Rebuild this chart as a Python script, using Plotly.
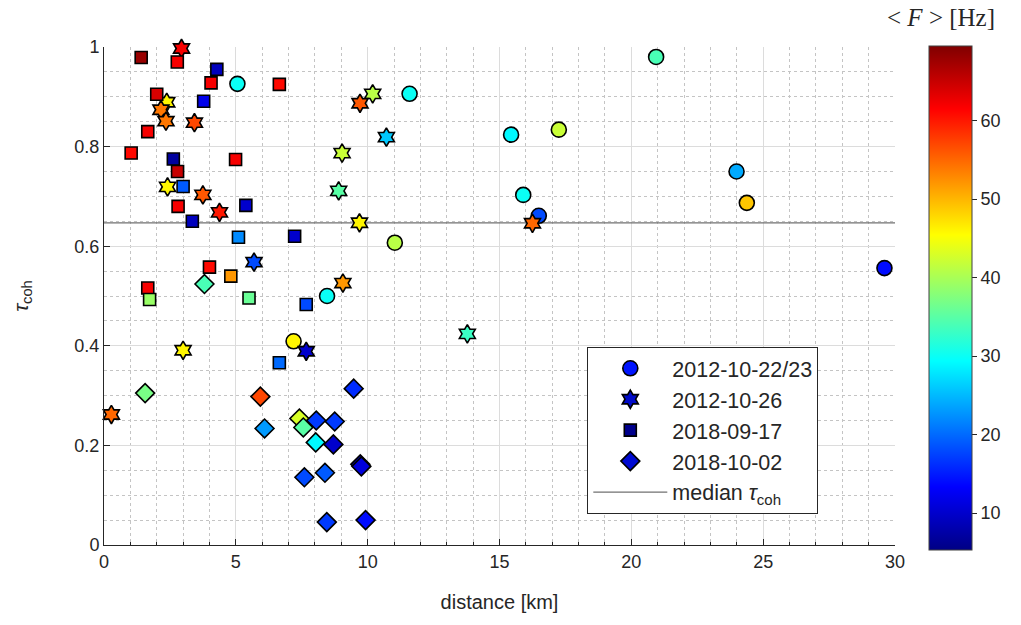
import plotly.graph_objects as go

# ---------------- data ----------------
CMIN, CMAX = 5.3, 69.5
median_tau = 0.647

circ_dist = [5.06, 11.59, 15.44, 17.25, 15.90, 16.49, 20.94, 23.99, 24.38, 29.60, 11.03, 8.46, 7.19]
circ_tau = [0.926, 0.906, 0.824, 0.834, 0.703, 0.661, 0.980, 0.750, 0.687, 0.556, 0.607, 0.500, 0.409]
circ_freq = [30, 30, 29, 42, 30, 18, 34, 24, 49, 14, 41, 30, 46]

star_dist = [2.94, 2.38, 2.16, 2.35, 3.43, 2.41, 3.75, 4.38, 5.69, 3.00, 0.28, 10.19, 9.71, 10.71,
             9.03, 8.90, 9.69, 9.06, 13.78, 7.67, 16.25]
star_tau = [0.997, 0.889, 0.874, 0.851, 0.848, 0.719, 0.703, 0.668, 0.568, 0.391, 0.262, 0.906, 0.887,
            0.819, 0.787, 0.711, 0.647, 0.526, 0.424, 0.389, 0.646]
star_freq = [62, 46, 54, 54, 57, 46, 56, 60, 18, 46, 55, 41, 56, 26, 42, 35, 46, 52, 33, 10, 55]

sq_dist = [1.41, 2.78, 4.28, 4.06, 6.65, 2.00, 3.78, 1.66, 1.03, 2.63, 4.99, 2.79, 3.00, 2.81, 5.38,
           3.35, 5.10, 7.23, 4.00, 4.81, 1.66, 1.73, 5.50, 7.67, 6.65]
sq_tau = [0.979, 0.970, 0.955, 0.928, 0.925, 0.905, 0.891, 0.830, 0.787, 0.775, 0.774, 0.750, 0.720,
          0.680, 0.682, 0.650, 0.618, 0.620, 0.558, 0.540, 0.516, 0.493, 0.496, 0.483, 0.366]
sq_freq = [68, 62, 9, 62, 61, 64, 12, 62, 61, 7, 62, 65, 19, 62, 10, 9, 22, 10, 61, 52, 62, 39, 36, 18, 20]

dia_dist = [1.56, 3.81, 5.93, 6.09, 7.41, 7.56, 8.05, 8.75, 8.03, 8.70, 9.47, 9.72, 9.76, 7.60, 8.38,
            8.45, 9.92]
dia_tau = [0.305, 0.524, 0.298, 0.234, 0.254, 0.236, 0.250, 0.248, 0.206, 0.202, 0.314, 0.162, 0.158,
           0.136, 0.145, 0.046, 0.050]
dia_freq = [37, 34, 57, 23, 43, 35, 17, 17, 29, 10, 16, 10, 11, 18, 19, 17, 14]

series_names = ["2012-10-22/23", "2012-10-26", "2018-09-17", "2018-10-02"]
x_ticks = [0, 5, 10, 15, 20, 25, 30]
y_ticks = [0, 0.2, 0.4, 0.6, 0.8, 1]
y_ticklabels = ["0", "0.2", "0.4", "0.6", "0.8", "1"]
cbar_ticks = [10, 20, 30, 40, 50, 60]

# ---------------- styling ----------------
TXT = "#262626"
FONT = "Liberation Sans, Arial, sans-serif"
jet = [[0.0, "rgb(0,0,132)"], [0.125, "rgb(0,0,255)"], [0.375, "rgb(0,255,255)"],
       [0.625, "rgb(255,255,0)"], [0.875, "rgb(255,0,0)"], [1.0, "rgb(128,0,0)"]]

fig = go.Figure()

# median line
fig.add_trace(go.Scatter(x=[0, 30], y=[median_tau, median_tau], mode="lines",
                         line=dict(color="#707070", width=1.2), showlegend=False,
                         hoverinfo="skip"))

groups = [
    (circ_dist, circ_tau, circ_freq, "circle", 15),
    (star_dist, star_tau, star_freq, "hexagram", 14),
    (sq_dist, sq_tau, sq_freq, "square", 12),
    (dia_dist, dia_tau, dia_freq, "diamond", 14.5),
]
for xs, ys, cs, sym, sz in groups:
    fig.add_trace(go.Scatter(
        x=xs, y=ys, mode="markers", showlegend=False, cliponaxis=False,
        marker=dict(symbol=sym, size=sz, color=cs, coloraxis="coloraxis",
                    line=dict(color="black", width=1.6))))

# legend-only entries
leg_colors = ["rgb(0,20,255)", "rgb(0,10,200)", "rgb(0,0,140)", "rgb(0,10,210)"]
for i, (name, (_, _, _, sym, sz), col) in enumerate(zip(series_names, groups, leg_colors)):
    fig.add_trace(go.Scatter(
        x=[None], y=[None], mode="markers", name=name, legendgroup=f"g{i}",
        marker=dict(symbol=sym, size=sz, color=col, line=dict(color="black", width=1.6))))
fig.add_trace(go.Scatter(x=[None], y=[None], mode="lines", name="median <i>τ</i><sub>coh</sub>",
                         legendgroup="g9", line=dict(color="#707070", width=1.2)))

# the page body adds an 8px offset; compensate so the plot area sits where the reference has it
fig.update_layout(
    width=1013, height=617,
    margin=dict(l=87, r=126, t=39, b=80),
    paper_bgcolor="white", plot_bgcolor="white",
    font=dict(family=FONT, size=18, color=TXT),
    coloraxis=dict(
        colorscale=jet, cmin=CMIN, cmax=CMAX,
        colorbar=dict(x=1.0425, xanchor="left", xpad=0, y=0.496, yanchor="middle", ypad=0,
                      thickness=43, len=504, lenmode="pixels",
                      outlinecolor="#404040", outlinewidth=1,
                      tickvals=cbar_ticks, ticks="outside", ticklen=5, tickcolor=TXT,
                      tickfont=dict(family=FONT, size=18, color=TXT))),
    legend=dict(x=0.611, y=0.398, xanchor="left", yanchor="top",
                bgcolor="white", bordercolor=TXT, borderwidth=1,
                font=dict(family=FONT, size=21.5, color=TXT),
                traceorder="grouped", tracegroupgap=0, itemwidth=74),
    showlegend=True,
)

fig.update_xaxes(
    range=[0, 30], tickvals=x_ticks, showline=True, linecolor=TXT, linewidth=1, mirror=False,
    ticks="inside", ticklen=6, tickcolor=TXT, zeroline=False,
    showgrid=True, gridcolor="#dcdcdc", gridwidth=1,
    minor=dict(dtick=1, showgrid=True, gridcolor="#c4c4c4", griddash="dot",
               ticks="inside", ticklen=3, tickcolor=TXT),
    tickfont=dict(size=18, color=TXT),
    title=dict(text="distance [km]", font=dict(size=20, color=TXT), standoff=24),
)
fig.update_yaxes(
    range=[0, 1], tickvals=y_ticks, ticktext=y_ticklabels, showline=True, linecolor=TXT,
    linewidth=1, mirror=False, ticks="inside", ticklen=6, tickcolor=TXT, zeroline=False,
    showgrid=True, gridcolor="#dcdcdc", gridwidth=1,
    minor=dict(dtick=0.05, showgrid=True, gridcolor="#c4c4c4", griddash="dot", ticks=""),
    tickfont=dict(size=18, color=TXT),
    title=dict(text="<i>τ</i><sub>coh</sub>", font=dict(size=21, color=TXT), standoff=40),
)

# colorbar title
fig.add_annotation(text="&lt; <i>F</i> &gt; [Hz]", xref="paper", yref="paper",
                   x=1.058, y=1.09, xanchor="center", yanchor="top", showarrow=False,
                   font=dict(family="Liberation Serif, DejaVu Serif, serif", size=25, color=TXT))

fig.write_html("out.html")
